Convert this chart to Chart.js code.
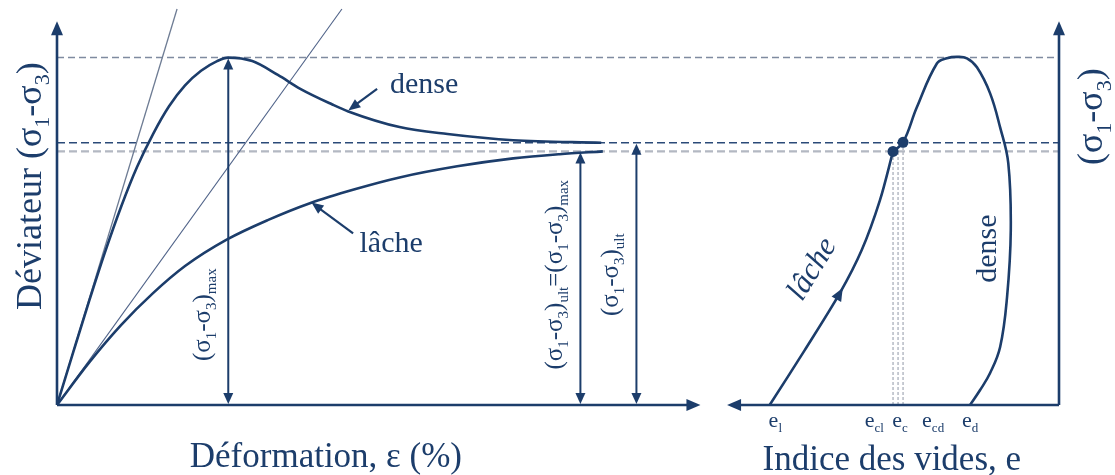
<!DOCTYPE html>
<html lang="fr">
<head>
<meta charset="utf-8">
<title>Déviateur – déformation – indice des vides</title>
<script src="https://cdn.jsdelivr.net/npm/chart.js@4.4.1/dist/chart.umd.min.js"></script>
<style>
  html, body { margin: 0; background: #fff; }
  canvas { display: block; }
</style>
</head>
<body>
<canvas id="c" width="1115" height="475"></canvas>
<script>
/* Sable dense / lâche : déviateur vs déformation (gauche) et vs indice des vides (droite). */

// left panel: strain ε (%) and deviator (σ1-σ3)
const strainDense = [0, 0.5, 1, 1.5, 2, 2.5, 3, 3.5, 4, 4.5, 5, 5.35, 6.1, 6.9, 7.6, 8.6, 9.1, 10.7, 12.2, 14.25, 17.0];
const devDense    = [0, 1.5, 2.98, 4.4, 5.7, 6.85, 7.8, 8.6, 9.2, 9.62, 9.9, 10, 9.9, 9.5, 9.1, 8.65, 8.45, 8.0, 7.8, 7.62, 7.55];
const strainLoose = [0, 1, 2, 3, 4, 5.3, 6.6, 7.9, 9.3, 10.7, 12.5, 14.25, 15.7, 17.05];
const devLoose    = [0, 1.22, 2.3, 3.22, 4.0, 4.76, 5.33, 5.81, 6.21, 6.55, 6.87, 7.1, 7.22, 7.3];
const tangentStrain = [3.75, 8.9];   // initial tangents (dense, lâche) reaching devTangentEnd
const devTangentEnd = 11.4;

// horizontal reference levels: peak, ultimate (dense), max (lâche)
const levels = [10, 7.55, 7.3];

// double arrows: strain position, top value, label
const arrowStrain = [5.35, 16.35, 18.1];
const arrowTop    = [10, 7.3, 7.55];
const arrowText   = ["(σ_{1}-σ_{3})_{max}", "(σ_{1}-σ_{3})_{ult}=(σ_{1}-σ_{3})_{max}", "(σ_{1}-σ_{3})_{ult}"];
const arrowTextDev = [2.6, 3.75, 3.75];

// right panel: void ratio e (axis runs towards the left)
const voidLoose = [0.862, 0.806, 0.750, 0.715, 0.686, 0.665];
const devLooseE = [0, 1.58, 3.22, 4.46, 5.89, 7.3];
const voidDense = [0.542, 0.526, 0.510, 0.494, 0.483, 0.477, 0.481, 0.494, 0.510, 0.531, 0.547, 0.563, 0.579, 0.595, 0.627, 0.649, 0.665];
const devDenseE = [0, 0.43, 0.92, 1.67, 3.1, 5.03, 6.96, 7.99, 8.97, 9.72, 9.98, 10.02, 9.98, 9.83, 8.57, 7.56, 7.3];
const voidCritical = [0.665, 0.657, 0.649];   // e_cl, e_c, e_cd
const critTop = [7.3, 7.3, 7.56];
const voidDots = [0.665, 0.649];
const devDots = [7.3, 7.56];
const eLabelSub = ["l", "cl", "c", "cd", "d"];
const eLabelAt  = [0.853, 0.695, 0.654, 0.601, 0.542];

const NAVY = "#1c3d6b";
const SERIF = '"Liberation Serif", "DejaVu Serif", serif';
const levelStyle = [
  { color: "#7f8ba0", width: 1.5, dash: [7, 4] },
  { color: "#2b4a78", width: 1.5, dash: [8, 4] },
  { color: "#b3b8c2", width: 2.2, dash: [8, 4] },
];

const pts = (xs, ys) => xs.map((v, i) => ({ x: v, y: ys[i] }));
const curve = (xs, ys, axis, extra) => Object.assign({
  data: pts(xs, ys), xAxisID: axis, yAxisID: "y", showLine: true, pointRadius: 0,
  borderColor: NAVY, borderWidth: 2.6, fill: false,
}, extra);

const datasets = [
  curve(strainDense, devDense, "x", { cubicInterpolationMode: "monotone" }),
  curve(strainLoose, devLoose, "x", { cubicInterpolationMode: "monotone" }),
  curve(voidLoose, devLooseE, "e", { tension: 0.3 }),
  curve(voidDense, devDenseE, "e", { tension: 0.4 }),
  { data: pts(voidDots, devDots), xAxisID: "e", yAxisID: "y", showLine: false, pointRadius: 5.5, backgroundColor: NAVY, borderWidth: 0 },
  curve([0, tangentStrain[0]], [0, devTangentEnd], "x", { borderWidth: 1.3, borderColor: "#6e7c94" }),
  curve([0, tangentStrain[1]], [0, devTangentEnd], "x", { borderWidth: 1.1, borderColor: "#4f6288" }),
  ...voidCritical.map((v, i) => curve([v, v], [0, critTop[i]], "e", { borderWidth: 1.5, borderColor: "#b5bac4", borderDash: [3, 2] })),
  ...levels.map((v, i) => curve([0, 31.3], [v, v], "x", { borderWidth: levelStyle[i].width, borderColor: levelStyle[i].color, borderDash: levelStyle[i].dash })),
];

// text with _{...} subscripts, optionally rotated
function rich(ctx, str, x, y, o) {
  const size = o.size, sub = Math.round(size * 0.6);
  const segs = str.split(/_\{([^}]*)\}/);
  const font = (s) => `${o.italic ? "italic " : ""}${s}px ${SERIF}`;
  const widths = segs.map((s, i) => { ctx.font = font(i % 2 ? sub : size); return ctx.measureText(s).width; });
  const w = widths.reduce((a, b) => a + b, 0);
  ctx.save();
  ctx.translate(x, y);
  ctx.rotate(o.rot || 0);
  ctx.fillStyle = NAVY;
  ctx.textBaseline = "alphabetic";
  let cx = o.align === "left" ? 0 : -w / 2;
  const base = (o.mid || 0) * size;
  segs.forEach((s, i) => {
    ctx.font = font(i % 2 ? sub : size);
    ctx.fillText(s, cx, base + (i % 2 ? size * 0.24 : 0));
    cx += widths[i];
  });
  ctx.restore();
}

function head(ctx, x, y, ang, len, half) {
  len = len || 14; half = half || 6;
  const c = Math.cos(ang), s = Math.sin(ang);
  ctx.beginPath();
  ctx.moveTo(x, y);
  ctx.lineTo(x - len * c - half * s, y - len * s + half * c);
  ctx.lineTo(x - len * c + half * s, y - len * s - half * c);
  ctx.closePath();
  ctx.fill();
}

function seg(ctx, x1, y1, x2, y2, w) {
  ctx.lineWidth = w;
  ctx.beginPath(); ctx.moveTo(x1, y1); ctx.lineTo(x2, y2); ctx.stroke();
}

const sketch = {
  id: "sketch",
  afterDatasetsDraw(chart) {
    const { ctx, scales } = chart;
    const X = (v) => scales.x.getPixelForValue(v);
    const E = (v) => scales.e.getPixelForValue(v);
    const Y = (v) => scales.y.getPixelForValue(v);
    const up = -Math.PI / 2, down = Math.PI / 2;
    ctx.save();
    ctx.strokeStyle = NAVY; ctx.fillStyle = NAVY;

    // axes with arrows
    const yTop = 11.05, strainEnd = 20.1, voidEnd = 0.93;
    seg(ctx, X(0), Y(0), X(0), Y(yTop) + 10, 2.6); head(ctx, X(0), Y(yTop), up);
    seg(ctx, X(0), Y(0), X(strainEnd) - 10, Y(0), 2.6); head(ctx, X(strainEnd), Y(0), 0);
    const eMin = scales.e.min;
    seg(ctx, E(eMin), Y(0), E(eMin), Y(yTop) + 10, 2.6); head(ctx, E(eMin), Y(yTop), up);
    seg(ctx, E(eMin), Y(0), E(voidEnd) + 10, Y(0), 2.6); head(ctx, E(voidEnd), Y(0), Math.PI);

    // double arrows with rotated labels
    arrowStrain.forEach((s, i) => {
      const px = X(s);
      seg(ctx, px, Y(0) - 6, px, Y(arrowTop[i]) + 6, 2);
      head(ctx, px, Y(arrowTop[i]) + 1, up, 11, 5);
      head(ctx, px, Y(0) - 1, down, 11, 5);
      rich(ctx, arrowText[i], px - 24, Y(arrowTextDev[i]), { size: 25, rot: up, mid: 0.23 });
    });

    // curve labels with pointers
    rich(ctx, "dense", X(10.4), Y(8.97), { size: 30, align: "left" });
    seg(ctx, X(10.0), Y(9.1), X(9.1) + 5, Y(8.48) - 4, 2.2); head(ctx, X(9.1), Y(8.48), Math.atan2(Y(8.48) - Y(9.1), X(9.1) - X(10.0)), 12, 5);
    rich(ctx, "lâche", X(9.45), Y(4.4), { size: 30, align: "left" });
    seg(ctx, X(9.25), Y(4.94), X(7.95) + 5, Y(5.83) + 4, 2.2); head(ctx, X(7.95), Y(5.83), Math.atan2(Y(5.83) - Y(4.94), X(7.95) - X(9.25)), 12, 5);

    // direction arrow on the lâche path
    const a = Math.atan2(Y(devLooseE[3]) - Y(devLooseE[1]), E(voidLoose[3]) - E(voidLoose[1]));
    head(ctx, E(voidLoose[2]) + 6 * Math.cos(a), Y(devLooseE[2]) + 6 * Math.sin(a), a, 13, 5.5);

    // right panel labels
    rich(ctx, "lâche", E(0.793), Y(3.9), { size: 31, italic: true, rot: -1.02, mid: 0.25 });
    rich(ctx, "dense", E(0.513), Y(4.5), { size: 30, rot: up, mid: 0.25 });
    eLabelSub.forEach((s, i) => rich(ctx, "e_{" + s + "}", E(eLabelAt[i]), Y(0) + 22, { size: 22 }));

    // axis titles
    rich(ctx, "Déviateur (σ_{1}-σ_{3})", 30, Y(6.3), { size: 36, rot: up, mid: 0.3 });
    rich(ctx, "(σ_{1}-σ_{3})", 1094, Y(8.3), { size: 36, rot: up, mid: 0.23 });
    rich(ctx, "Déformation, ε (%)", X(8.4), 467, { size: 35 });
    rich(ctx, "Indice des vides, e", E(0.667), 470, { size: 35 });
    ctx.restore();
  },
};

new Chart(document.getElementById("c"), {
  type: "scatter",
  data: { datasets },
  options: {
    responsive: false, animation: false, devicePixelRatio: 1,
    layout: { padding: { left: 57, right: 56, top: 5, bottom: 70 } },
    plugins: { legend: { display: false }, tooltip: { enabled: false } },
    scales: {
      x: { type: "linear", min: 0, max: 31.3, display: false },
      e: { type: "linear", axis: "x", position: "bottom", reverse: true, min: 0.4, max: 2.0, display: false },
      y: { type: "linear", min: 0, max: 11.5, display: false },
    },
  },
  plugins: [sketch],
});
</script>
</body>
</html>
